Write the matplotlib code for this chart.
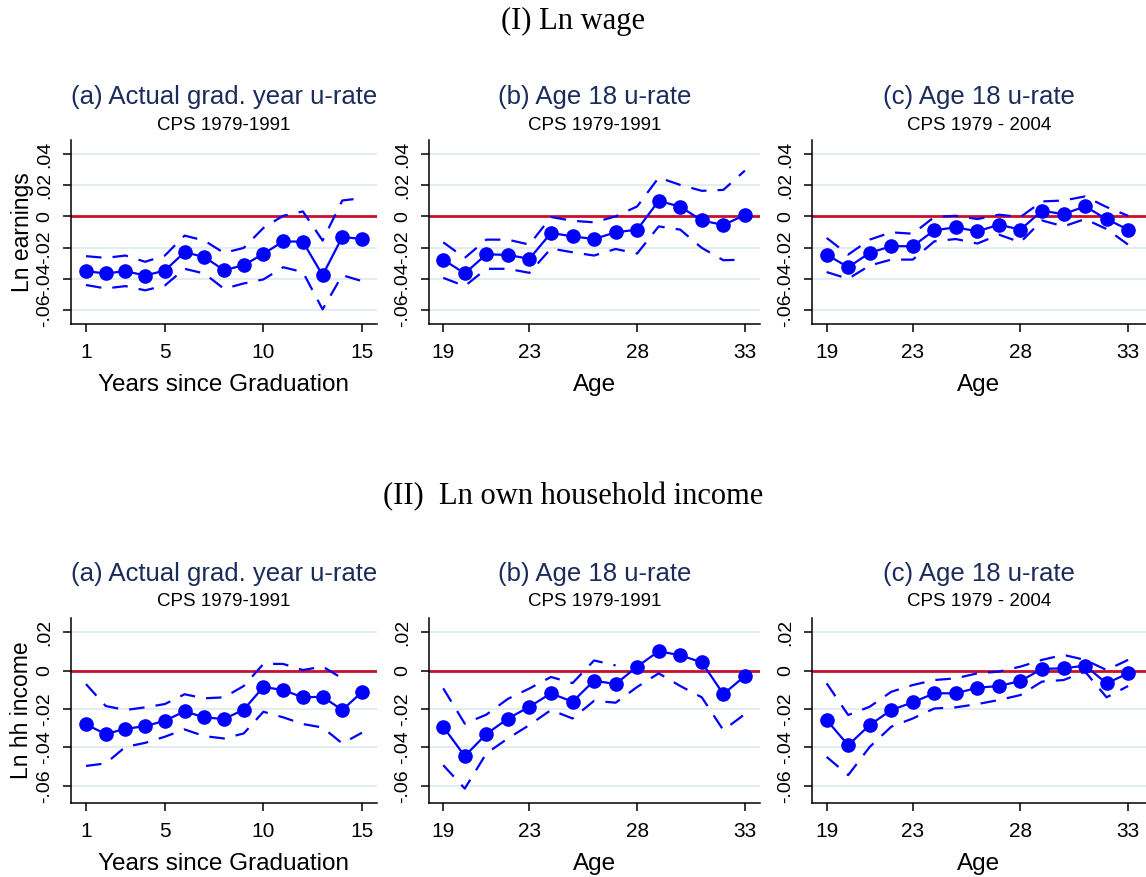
import numpy as np
import matplotlib
matplotlib.use("Agg")
import matplotlib.pyplot as plt
from matplotlib.ticker import FuncFormatter

nan = np.nan

# x values
years_grad = list(range(1, 16))
ages = list(range(19, 34))

# (I) Ln wage: point estimates and 95% bands
wage_a = [-0.0351, -0.0366, -0.0351, -0.0379, -0.0347, -0.0230, -0.0260, -0.0345,
          -0.0313, -0.0240, -0.0160, -0.0162, -0.0377, -0.0132, -0.0145]
wage_a_hi = [-0.0255, -0.0266, -0.0251, -0.0291, -0.0251, -0.0123, -0.0155, -0.0234,
             -0.0202, -0.0074, 0.0004, 0.0032, -0.0155, 0.0102, 0.0117]
wage_a_lo = [-0.0440, -0.0462, -0.0447, -0.0474, -0.0443, -0.0336, -0.0366, -0.0464,
             -0.0430, -0.0404, -0.0326, -0.0357, -0.0596, -0.0377, -0.0415]

wage_b = [-0.0277, -0.0366, -0.0243, -0.0247, -0.0272, -0.0106, -0.0128, -0.0145,
          -0.0102, -0.0085, 0.0100, 0.0062, -0.0026, -0.0055, 0.0009]
wage_b_hi = [-0.0166, -0.0266, -0.0149, -0.0149, -0.0181, -0.0004, -0.0028, -0.0038,
             0.0000, 0.0064, 0.0249, 0.0202, 0.0164, 0.0170, 0.0294]
wage_b_lo = [-0.0394, -0.0447, -0.0336, -0.0336, -0.0362, -0.0206, -0.0230, -0.0251,
             -0.0209, -0.0238, -0.0064, -0.0085, -0.0202, -0.0281, -0.0277]

wage_c = [-0.0245, -0.0326, -0.0234, -0.0191, -0.0191, -0.0089, -0.0070, -0.0096,
          -0.0053, -0.0085, 0.0036, 0.0015, 0.0064, -0.0017, -0.0085]
wage_c_hi = [-0.0138, -0.0245, -0.0149, -0.0102, -0.0111, -0.0004, 0.0004, -0.0017,
             0.0011, -0.0004, 0.0096, 0.0102, 0.0128, 0.0060, 0.0004]
wage_c_lo = [-0.0357, -0.0400, -0.0315, -0.0277, -0.0277, -0.0160, -0.0145, -0.0174,
             -0.0117, -0.0166, -0.0026, -0.0064, -0.0017, -0.0081, -0.0181]

# (II) Ln own household income
hh_a = [-0.0280, -0.0330, -0.0303, -0.0289, -0.0261, -0.0212, -0.0243, -0.0252,
        -0.0203, -0.0085, -0.0101, -0.0139, -0.0136, -0.0205, -0.0111]
hh_a_hi = [-0.0070, -0.0184, -0.0205, -0.0191, -0.0174, -0.0123, -0.0144, -0.0139,
           -0.0080, 0.0035, 0.0035, 0.0003, 0.0021, -0.0040, nan]
hh_a_lo = [-0.0496, -0.0483, -0.0397, -0.0376, -0.0344, -0.0306, -0.0341, -0.0353,
           -0.0327, -0.0214, -0.0243, -0.0278, -0.0296, -0.0379, -0.0323]

hh_b = [-0.0292, -0.0445, -0.0330, -0.0250, -0.0188, -0.0118, -0.0162, -0.0052,
        -0.0070, 0.0021, 0.0101, 0.0080, 0.0043, -0.0122, -0.0028]
hh_b_hi = [-0.0092, -0.0276, -0.0229, -0.0147, -0.0093, -0.0033, -0.0065, 0.0053,
           0.0027, nan, nan, nan, nan, nan, nan]
hh_b_lo = [-0.0492, -0.0614, -0.0431, -0.0353, -0.0283, -0.0205, -0.0249, -0.0157,
           -0.0167, -0.0085, -0.0014, -0.0080, -0.0139, -0.0310, -0.0226]

hh_c = [-0.0257, -0.0388, -0.0283, -0.0205, -0.0165, -0.0118, -0.0118, -0.0089,
        -0.0080, -0.0054, 0.0009, 0.0012, 0.0026, -0.0066, -0.0014]
hh_c_hi = [-0.0066, -0.0231, -0.0188, -0.0110, -0.0075, -0.0049, -0.0040, -0.0014,
           -0.0005, 0.0021, 0.0056, 0.0082, 0.0056, 0.0003, 0.0056]
hh_c_lo = [-0.0449, -0.0544, -0.0397, -0.0292, -0.0249, -0.0197, -0.0191, -0.0174,
           -0.0153, -0.0127, -0.0057, -0.0049, -0.0005, -0.0139, -0.0080]

titles = ["(a) Actual grad. year u-rate", "(b) Age 18 u-rate", "(c) Age 18 u-rate"]
subtitles = ["CPS 1979-1991", "CPS 1979-1991", "CPS 1979 - 2004"]
xlabels = ["Years since Graduation", "Age", "Age"]
xticks_grad = [1, 5, 10, 15]
xticks_age = [19, 23, 28, 33]
yticks_wage = [-0.06, -0.04, -0.02, 0, 0.02, 0.04]
yticks_hh = [-0.06, -0.04, -0.02, 0, 0.02]

W, H = 1146, 877
BLUE = "#0000ff"
RED = "#c8102e"
NAVY = "#1a2c5b"
GRID = "#e3ecef"
SANS = "Liberation Sans"
SERIF = "Liberation Serif"


def stata_fmt(v, pos):
    if abs(v) < 1e-9:
        return "0"
    s = "%.2f" % v
    return s.replace("0.", ".")


def px_rect(l, t, r, b):
    return [l / W, 1 - b / H, (r - l) / W, (b - t) / H]


def draw_panel(ax, x, y, hi, lo, xticks, xlim, yticks, ylim, xlabel):
    ax.set_xlim(*xlim)
    ax.set_ylim(*ylim)
    for v in yticks:
        ax.axhline(v, color=GRID, lw=1.5, zorder=0)
    ax.axhline(0, color=RED, lw=2.0, zorder=1)
    ax.plot(x, hi, color=BLUE, lw=1.6, dashes=(7, 5), dash_capstyle="butt", zorder=2)
    ax.plot(x, lo, color=BLUE, lw=1.6, dashes=(7, 5), dash_capstyle="butt", zorder=2)
    ax.plot(x, y, color=BLUE, lw=1.6, marker="o", ms=9.5, zorder=3)
    ax.set_xticks(xticks)
    ax.set_yticks(yticks)
    ax.yaxis.set_major_formatter(FuncFormatter(stata_fmt))
    for s in ["top", "right"]:
        ax.spines[s].set_visible(False)
    for s in ["left", "bottom"]:
        ax.spines[s].set_linewidth(1.1)
    ax.tick_params(axis="both", direction="out", length=6, width=1.1, colors="black")
    ax.tick_params(axis="x", labelsize=15, pad=8)
    ax.tick_params(axis="y", labelsize=14, pad=7, labelrotation=90)
    for lab in ax.get_xticklabels() + ax.get_yticklabels():
        lab.set_fontfamily(SANS)
    for lab in ax.get_yticklabels():
        lab.set_va("center")
    ax.set_xlabel(xlabel, fontsize=17.5, family=SANS, labelpad=8)


fig = plt.figure(figsize=(W / 100, H / 100), dpi=100)
fig.patch.set_facecolor("white")

cols = [(71, 377), (429, 760), (812, 1146)]
xlims = [(0.24, 15.76), (18.34, 33.70), (18.32, 33.83)]
rows = [
    dict(top=140, bottom=324, ylim=(-0.069, 0.049), yticks=yticks_wage,
         series=[(wage_a, wage_a_hi, wage_a_lo), (wage_b, wage_b_hi, wage_b_lo),
                 (wage_c, wage_c_hi, wage_c_lo)],
         head="(I) Ln wage", head_y=21, title_y=97, ylabel="Ln earnings"),
    dict(top=618, bottom=803, ylim=(-0.0689, 0.0274), yticks=yticks_hh,
         series=[(hh_a, hh_a_hi, hh_a_lo), (hh_b, hh_b_hi, hh_b_lo),
                 (hh_c, hh_c_hi, hh_c_lo)],
         head="(II)  Ln own household income", head_y=497, title_y=574,
         ylabel="Ln hh income"),
]

for row in rows:
    fig.text(0.5, 1 - row["head_y"] / H, row["head"], ha="center", va="center",
             fontsize=22, family=SERIF)
    for j, (l, r) in enumerate(cols):
        ax = fig.add_axes(px_rect(l, row["top"], r, row["bottom"]))
        y, hi, lo = row["series"][j]
        x = years_grad if j == 0 else ages
        xt = xticks_grad if j == 0 else xticks_age
        draw_panel(ax, x, y, hi, lo, xt, xlims[j], row["yticks"], row["ylim"], xlabels[j])
        cx = (l + r) / 2 / W
        fig.text(cx, 1 - row["title_y"] / H, titles[j], ha="center", va="center",
                 fontsize=18.5, family=SANS, color=NAVY)
        fig.text(cx, 1 - (row["title_y"] + 28) / H, subtitles[j], ha="center",
                 va="center", fontsize=13.5, family=SANS, color="black")
    yc = (row["top"] + row["bottom"]) / 2
    fig.text(22 / W, 1 - yc / H, row["ylabel"], rotation=90, ha="center", va="center",
             fontsize=16.5, family=SANS)

fig.savefig("out.png", dpi=100)
